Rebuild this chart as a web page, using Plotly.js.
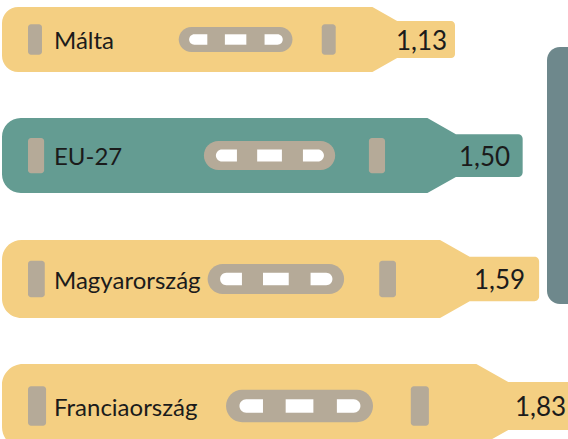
<!DOCTYPE html>
<html>
<head>
<meta charset="utf-8">
<script src="https://cdn.plot.ly/plotly-3.0.1.min.js"></script>
<style>
  html, body { margin: 0; padding: 0; background: #ffffff; }
  #chart { width: 568px; height: 439px; }
</style>
</head>
<body>
<div id="chart"></div>
<script>
// ---- data ----
const categories = ['Málta', 'EU-27', 'Magyarország', 'Franciaország'];
const values = [1.13, 1.50, 1.59, 1.83];
const valueLabels = ['1,13', '1,50', '1,59', '1,83'];

// ---- styles / layout constants ----
const W = 568, H = 439;
const rowFill = ['#F4CF82', '#649C92', '#F4CF82', '#F4CF82'];
const rowCenter = [39.5, 155.5, 279, 406];   // vertical centre of each stick (px)
const rowHeight = [65, 75, 78, 84];          // height of each stick (px)
const grayPart = '#B5AA98';
const slotColor = '#FFFFFF';
const sideBox = '#6E888C';
const textColor = '#1b1b1b';
const fontFam = 'Lato, "Open Sans", sans-serif';

// value axis: chosen so that the stick tip lands on its value
const xRange = [-1.3576, 1.7479];
const upp = (xRange[1] - xRange[0]) / W;     // value units per pixel
const X = px => xRange[0] + px * upp;        // pixel -> axis value
const P = v => (v - xRange[0]) / upp;        // axis value -> pixel
const K = 0.5523;

function f(n) { return n.toFixed(5); }
function pt(x, y) { return f(X(x)) + ',' + f(y); }

// rounded rectangle with per-corner radii [tl,tr,br,bl], coordinates in px
function rrect(x0, y0, x1, y1, r) {
  const [tl, tr, br, bl] = Array.isArray(r) ? r : [r, r, r, r];
  let d = 'M' + pt(x0 + tl, y0);
  d += ' L' + pt(x1 - tr, y0);
  if (tr > 0) d += ' C' + pt(x1 - tr + tr * K, y0) + ' ' + pt(x1, y0 + tr - tr * K) + ' ' + pt(x1, y0 + tr);
  d += ' L' + pt(x1, y1 - br);
  if (br > 0) d += ' C' + pt(x1, y1 - br + br * K) + ' ' + pt(x1 - br + br * K, y1) + ' ' + pt(x1 - br, y1);
  d += ' L' + pt(x0 + bl, y1);
  if (bl > 0) d += ' C' + pt(x0 + bl - bl * K, y1) + ' ' + pt(x0, y1 - bl + bl * K) + ' ' + pt(x0, y1 - bl);
  d += ' L' + pt(x0, y0 + tl);
  if (tl > 0) d += ' C' + pt(x0, y0 + tl - tl * K) + ' ' + pt(x0 + tl - tl * K, y0) + ' ' + pt(x0 + tl, y0);
  return d + ' Z';
}

function stickPath(tip, cy, h) {
  const left = 2, top = cy - h / 2, bot = cy + h / 2, r = 0.25 * h;
  const ts = tip - 1.27 * h, te = tip - 0.89 * h;
  const tt = cy - 0.285 * h, tb = cy + 0.285 * h, rt = 0.06 * h;
  let d = 'M' + pt(left + r, top);
  d += ' L' + pt(ts, top);
  d += ' L' + pt(te, tt);
  d += ' L' + pt(tip - rt, tt);
  d += ' C' + pt(tip - rt + rt * K, tt) + ' ' + pt(tip, tt + rt - rt * K) + ' ' + pt(tip, tt + rt);
  d += ' L' + pt(tip, tb - rt);
  d += ' C' + pt(tip, tb - rt + rt * K) + ' ' + pt(tip - rt + rt * K, tb) + ' ' + pt(tip - rt, tb);
  d += ' L' + pt(te, tb);
  d += ' L' + pt(ts, bot);
  d += ' L' + pt(left + r, bot);
  d += ' C' + pt(left + r - r * K, bot) + ' ' + pt(left, bot - r + r * K) + ' ' + pt(left, bot - r);
  d += ' L' + pt(left, top + r);
  d += ' C' + pt(left, top + r - r * K) + ' ' + pt(left + r - r * K, top) + ' ' + pt(left + r, top);
  return d + ' Z';
}

const shapes = [];
const annotations = [];
function addPath(path, color) {
  shapes.push({ type: 'path', xref: 'x', yref: 'y', path: path,
    fillcolor: color, line: { width: 0 }, layer: 'above' });
}

// decorative side panel on the right
addPath(rrect(547, 47, W + 30, 304, 13), sideBox);

values.forEach((v, i) => {
  const tip = P(v);
  const cy = rowCenter[i], h = rowHeight[i];
  addPath(stickPath(tip, cy, h), rowFill[i]);
  // small bars
  const bw = 0.215 * h, bh = 0.235 * h;
  addPath(rrect(28, cy - bh, 28 + bw, cy + bh, 3), grayPart);
  const rx = tip - 2.05 * h;
  addPath(rrect(rx, cy - bh, rx + bw, cy + bh, 3), grayPart);
  // pill
  const ps = tip - 4.25 * h, ph = 0.1925 * h;
  addPath(rrect(ps, cy - ph, ps + 1.75 * h, cy + ph, ph), grayPart);
  const sh = 0.08 * h;
  addPath(rrect(ps + 0.16 * h, cy - sh, ps + 0.44 * h, cy + sh, [sh, 0, 0, sh]), slotColor);
  addPath(rrect(ps + 0.71 * h, cy - sh, ps + 1.04 * h, cy + sh, 0), slotColor);
  addPath(rrect(ps + 1.32 * h, cy - sh, ps + 1.60 * h, cy + sh, [0, sh, sh, 0]), slotColor);

  annotations.push({
    xref: 'x', yref: 'y', x: X(52), y: cy, xanchor: 'left', yanchor: 'middle',
    text: categories[i], showarrow: false,
    font: { family: fontFam, size: 24, color: textColor }
  });
  annotations.push({
    xref: 'x', yref: 'y', x: X(tip - 0.51 * h), y: cy, xanchor: 'center', yanchor: 'middle',
    text: valueLabels[i], showarrow: false,
    font: { family: fontFam, size: 26, color: textColor }
  });
});

const layout = {
  width: W, height: H,
  margin: { l: 0, r: 0, t: 0, b: 0, pad: 0 },
  paper_bgcolor: '#ffffff', plot_bgcolor: '#ffffff',
  showlegend: false,
  xaxis: { range: xRange, visible: false, fixedrange: true },
  yaxis: { range: [H, 0], visible: false, fixedrange: true },
  shapes: shapes,
  annotations: annotations
};

Plotly.newPlot('chart', [{ x: values, y: rowCenter, type: 'scatter', mode: 'markers',
  marker: { opacity: 0 }, hoverinfo: 'skip' }], layout, { staticPlot: true, displayModeBar: false });
</script>
</body>
</html>
